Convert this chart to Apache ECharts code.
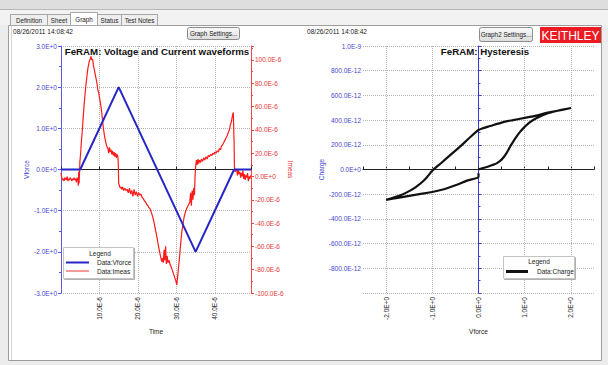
<!DOCTYPE html>
<html><head><meta charset="utf-8">
<script src="https://cdn.jsdelivr.net/npm/echarts@6/dist/echarts.min.js"></script>
<style>html,body{margin:0;padding:0;background:#ececec}#c{width:608px;height:365px}</style>
</head><body><div id="c"></div>
<script>
// ---- Data ----
const vforceTime = [0, 5, 15, 35, 45, 49.4];            // µs
const vforceValue = [0, 0, 2, -2, 0, 0];                 // V

const imeasTime = [
  0,0.2,0.4,0.6,0.8,1.0,1.2,1.4,1.6,1.8,2.0,2.2,2.4,2.6,2.8,3.0,3.2,3.4,3.6,3.8,4.0,4.2,4.4,
  4.5,4.6,4.7,4.8,
  4.9,5.1,5.3,5.5,5.8,6.1,6.4,6.7,7.0,7.3,7.6,7.8,8.0,8.2,8.4,8.7,9.0,9.3,9.6,9.8,10.1,10.4,10.6,10.8,11.0,11.3,11.6,11.9,
  12.2,12.4,12.6,12.8,13.0,13.2,13.4,13.6,13.8,14.0,14.2,14.4,14.6,14.8,14.9,15.0,
  15.2,15.4,15.6,15.8,16.0,16.3,16.6,16.9,17.2,17.5,17.8,18.1,18.4,18.7,19.0,19.3,19.6,19.9,20.2,20.5,20.8,21.1,21.4,21.7,
  22.0,22.3,22.6,22.9,23.2,23.5,23.8,24.1,24.4,24.7,25.0,25.3,25.6,25.9,26.2,26.4,26.6,26.8,27.0,27.2,27.4,27.6,27.8,
  28.1,28.4,28.7,29.0,29.3,29.6,29.9,30.1,30.3,30.5,30.8,31.1,31.4,31.7,32.0,32.3,32.6,32.9,33.2,33.5,33.7,33.9,34.1,34.3,34.5,34.7,34.85,
  35.0,35.2,35.4,35.6,35.8,36.0,36.3,36.5,36.8,37.1,37.4,37.7,38.0,38.3,38.6,38.9,39.2,39.5,39.8,40.0,40.3,40.6,40.9,41.2,41.5,41.7,
  42.0,42.3,42.6,42.9,43.2,43.5,43.8,44.0,44.3,44.5,44.7,44.8,45.0,45.1,45.3,45.5,
  45.7,45.9,46.1,46.3,46.5,46.7,46.9,47.1,47.3,47.5,47.7,47.9,48.1,48.3,48.5,48.7,48.9,49.1,49.3
];
const imeasValue = [                                      // µA
  3,-1,-3,-2,-4,-1,-2,-3,0,-4,-2,-3,-1,-2,-4,-2,-3,-1,-3,-2,-5,-1,-3,
  -8,4,-6,2,
  12,20,30,38,52,65,76,85,93,98,101,103,100,101,96,91,86,81,74,72,66,60,55,48,42,35,30,26,
  24,20,25,21,23,19,22,18,21,17,20,16,19,17,10,-6,
  -8,-10,-9,-11,-9,-12,-10,-12,-11,-14,-10,-15,-12,-17,-11,-16,-13,-17,-14,-16,-15,-18,-19,-21,
  -22,-24,-25,-27,-28,-31,-34,-38,-43,-48,-53,-59,-64,-69,-73,-70,-74,-63,-72,-60,-75,-68,-74,
  -72,-76,-78,-81,-84,-87,-90,-93,-87,-80,-70,-58,-48,-41,-35,-31,-28,-26,-24,-22,-14,-25,-12,-20,-10,-16,0,
  8,14,10,15,11,14,12,15,13,16,14,17,15,18,17,19,18,20,19,21,20,22,21,24,23,26,
  27,29,31,33,35,38,40,44,47,51,54,55,30,8,4,6,
  5,1,6,2,4,-1,3,0,5,-2,2,-3,1,-1,3,-4,0,-2,1
];

// Hysteresis loop in acquisition order (V, pC)
const hystV = [
  0,0.1,0.2,0.3,0.4,0.5,0.6,0.7,0.8,0.9,1.0,1.1,1.25,1.5,1.75,2.0,
  1.75,1.5,1.25,1.0,0.75,0.5,0.25,0.1,0,-0.2,-0.4,-0.6,-0.8,-1.0,-1.1,-1.2,-1.35,-1.5,-1.7,-2.0,
  -1.75,-1.5,-1.25,-1.0,-0.75,-0.5,-0.25,0,0];
const hystQ = [
  0,12,22,36,52,80,128,195,255,305,345,380,415,455,480,498,
  478,460,436,418,400,380,352,335,320,255,185,120,55,-10,-55,-95,-140,-175,-210,-246,
  -230,-214,-198,-182,-160,-128,-90,-58,-30];

const hystGridV = [-2, -1, 1, 2];

// ---- Helpers ----
const FONT = 'Liberation Sans, Arial, sans-serif';
const BLUE = '#2626c8', RED = '#ff1a1a';
const zip = (a, b) => a.map((v, i) => [v, b[i]]);
const dotted = {show: true, lineStyle: {color: '#b4b4b4', type: 'dotted', width: 1}};
const lab = (color, fmt, extra) => Object.assign({fontSize: 6.5, color, fontFamily: FONT, formatter: fmt}, extra || {});

const fmtE = (suffix) => v => (v === 0 ? '0.0E+0' : v.toFixed(1) + suffix);
const fmtCharge = v => v === 0 ? '0.0E+0' : (Math.abs(v) >= 1000 ? (v / 1000).toFixed(1) + 'E-9' : v.toFixed(1) + 'E-12');
const fmtHystX = v => Math.abs(v - Math.round(v)) < 1e-9 ? Math.round(v).toFixed(1) + 'E+0' : '';

function txt(x, y, text, o) {
  o = o || {};
  return {type: 'text', x, y, z: o.z || 5, silent: true, style: {text, fill: o.fill || '#1a1a1a', fontSize: o.size || 6.5,
    fontWeight: o.weight || 'normal', fontFamily: FONT, align: o.align || 'left', verticalAlign: 'middle'}};
}
function rect(x, y, w, h, o) {
  return {type: 'rect', z: o.z === undefined ? -1 : o.z, silent: true, shape: {x, y, width: w, height: h, r: o.r || 0},
    style: Object.assign({fill: o.fill || 'none', stroke: o.stroke || null, lineWidth: 1}, o.style || {})};
}
const tabs = [['Definition', 10, 37], ['Sheet', 47, 23], ['Graph', 70, 27], ['Status', 97, 24], ['Test Notes', 121, 36]];
const tabGraphics = [];
tabs.forEach(([t, x, w]) => {
  const sel = t === 'Graph';
  tabGraphics.push(rect(x + 0.5, sel ? 12.5 : 14.5, w, sel ? 13 : 11, {fill: sel ? '#ffffff' : '#efefef', stroke: '#a6a6a6', z: -1}));
  tabGraphics.push(txt(x + w / 2 + 0.5, sel ? 19 : 20, t, {align: 'center', size: 6.3, z: 0}));
});
const btnGrad = {type: 'linear', x: 0, y: 0, x2: 0, y2: 1, colorStops: [{offset: 0, color: '#fafafa'}, {offset: 1, color: '#dcdcdc'}]};

const chart = echarts.init(document.getElementById('c'), null, {renderer: 'svg'});
chart.setOption({
  animation: false,
  backgroundColor: '#ececec',
  textStyle: {fontFamily: FONT},
  grid: [
    {left: 61, top: 46, width: 190, height: 247},
    {left: 363, top: 46, width: 231, height: 247}
  ],
  xAxis: [
    {gridIndex: 0, type: 'value', min: 0, max: 49.4, interval: 10, position: 'bottom',
     axisLine: {show: false, onZero: false}, axisTick: {show: false},
     axisLabel: lab('#222', v => v.toFixed(1) + 'E-6', {rotate: 90, margin: 4, showMinLabel: false, showMaxLabel: false}),
     splitLine: dotted, name: 'Time', nameLocation: 'middle', nameGap: 32,
     nameTextStyle: {fontSize: 6.5, color: '#222', fontFamily: FONT}},
    {gridIndex: 0, type: 'value', min: 0, max: 49.4, interval: 10,
     axisLine: {show: true, onZero: true, lineStyle: {color: '#222', width: 1}},
     axisTick: {show: true, length: 3, lineStyle: {color: '#222'}}, axisLabel: {show: false}, splitLine: {show: false}},
    {gridIndex: 1, type: 'value', min: -2.5, max: 2.5, interval: 0.5, position: 'bottom',
     axisLine: {show: false, onZero: false}, axisTick: {show: false},
     axisLabel: lab('#222', fmtHystX, {rotate: 90, margin: 4}),
     splitLine: {show: false}, name: 'Vforce', nameLocation: 'middle', nameGap: 32,
     nameTextStyle: {fontSize: 6.5, color: '#222', fontFamily: FONT}},
    {gridIndex: 1, type: 'value', min: -2.5, max: 2.5, interval: 0.5,
     axisLine: {show: true, onZero: true, lineStyle: {color: '#222', width: 1}},
     axisTick: {show: true, length: 3, lineStyle: {color: '#222'}}, axisLabel: {show: false}, splitLine: {show: false}}
  ],
  yAxis: [
    {gridIndex: 0, type: 'value', min: -3, max: 3, interval: 1, position: 'left',
     axisLine: {show: true, onZero: false, lineStyle: {color: '#5a5ae0', width: 1}},
     axisTick: {show: true, length: 3, lineStyle: {color: '#5a5ae0'}},
     minorTick: {show: true, splitNumber: 2, length: 2, lineStyle: {color: '#5a5ae0'}},
     axisLabel: lab('#4646d0', v => v.toFixed(1) + 'E+0', {margin: 4}),
     splitLine: dotted, name: 'Vforce', nameLocation: 'middle', nameGap: 29,
     nameTextStyle: {fontSize: 6.5, color: '#4646d0', fontFamily: FONT}},
    {gridIndex: 0, type: 'value', min: -100, max: 112, interval: 20, position: 'right',
     axisLine: {show: true, onZero: false, lineStyle: {color: '#f04848', width: 1}},
     axisTick: {show: true, length: 3, lineStyle: {color: '#f04848'}},
     minorTick: {show: true, splitNumber: 2, length: 2, lineStyle: {color: '#f04848'}},
     axisLabel: lab('#e83434', fmtE('E-6'), {margin: 4, showMaxLabel: false}),
     splitLine: {show: false}, name: 'Imeas', nameLocation: 'middle', nameGap: 35, nameRotate: -90,
     nameTextStyle: {fontSize: 6.5, color: '#e83434', fontFamily: FONT}},
    {gridIndex: 1, type: 'value', min: -1000, max: 1000, interval: 200, position: 'left',
     axisLine: {show: false, onZero: false}, axisTick: {show: false},
     axisLabel: lab('#4646d0', fmtCharge, {margin: 2, showMinLabel: false}),
     splitLine: dotted, name: 'Charge', nameLocation: 'middle', nameGap: 37,
     nameTextStyle: {fontSize: 6.5, color: '#4646d0', fontFamily: FONT}},
    {gridIndex: 1, type: 'value', min: -1000, max: 1000, interval: 200,
     axisLine: {show: true, onZero: true, lineStyle: {color: '#3a3ae0', width: 1}},
     axisTick: {show: true, length: 3, lineStyle: {color: '#3a3ae0'}},
     minorTick: {show: true, splitNumber: 2, length: 2, lineStyle: {color: '#3a3ae0'}},
     axisLabel: {show: false}, splitLine: {show: false}}
  ],
  legend: [
    {data: [{name: 'Data:Vforce'}, {name: 'Data:Imeas', itemStyle: {color: '#f59a9a'}}],
     orient: 'vertical', left: 66, top: 259, itemWidth: 23, itemHeight: 2, icon: 'rect', itemGap: 1.5,
     padding: 0, selectedMode: false, textStyle: {fontSize: 6.5, color: '#222', fontFamily: FONT, padding: [0, 0, 0, 3]}},
    {data: ['Data:Charge'], orient: 'vertical', left: 506, top: 268, itemWidth: 22, itemHeight: 3, icon: 'rect',
     padding: 0, selectedMode: false, textStyle: {fontSize: 6.5, color: '#222', fontFamily: FONT, padding: [0, 0, 0, 4]}}
  ],
  series: [
    {name: 'Data:Imeas', type: 'line', xAxisIndex: 0, yAxisIndex: 1, data: zip(imeasTime, imeasValue),
     showSymbol: false, symbol: 'none', z: 2, itemStyle: {color: RED}, lineStyle: {color: RED, width: 1.2}},
    {name: 'Data:Vforce', type: 'line', xAxisIndex: 0, yAxisIndex: 0, data: zip(vforceTime, vforceValue),
     showSymbol: false, symbol: 'none', z: 3, itemStyle: {color: BLUE}, lineStyle: {color: BLUE, width: 2}},
    {name: 'Data:Charge', type: 'line', xAxisIndex: 2, yAxisIndex: 2, data: zip(hystV, hystQ),
     showSymbol: false, symbol: 'none', z: 3, smooth: 0.3, itemStyle: {color: '#111'}, lineStyle: {color: '#111', width: 2.2},
     markLine: {silent: true, symbol: 'none', label: {show: false}, z: 1,
       lineStyle: {color: '#b4b4b4', type: 'dotted', width: 1},
       data: hystGridV.map(v => ({xAxis: v}))}}
  ],
  graphic: [
    rect(0, 0, 608, 9, {fill: '#dedede', z: -2}),
    {type: 'line', z: -2, silent: true, shape: {x1: 0, y1: 9.5, x2: 608, y2: 9.5}, style: {stroke: '#b8b8b8'}},
    rect(0, 10, 608, 15, {fill: '#f2f2f2', z: -2}),
    rect(8.5, 25.5, 593, 335, {fill: '#ffffff', stroke: '#9c9c9c', z: -2}),
    {type: 'line', z: -1, silent: true, shape: {x1: 11.5, y1: 26, x2: 11.5, y2: 360}, style: {stroke: '#d6d6d6'}},
    ...tabGraphics,
    txt(13, 31.5, '08/26/2011 14:08:42', {size: 6.6}),
    txt(307, 31.5, '08/26/2011 14:08:42', {size: 6.6}),
    rect(187.5, 27.5, 52, 12, {fill: btnGrad, stroke: '#8c8c8c', r: 2, z: 0}),
    txt(213.5, 33.5, 'Graph Settings...', {align: 'center', size: 6.3}),
    rect(479.5, 27.5, 53, 14, {fill: btnGrad, stroke: '#8c8c8c', r: 2, z: 0}),
    txt(506, 34.5, 'Graph2 Settings...', {align: 'center', size: 6.3}),
    rect(540, 27, 61, 16, {fill: '#ec1b23', z: 0}),
    txt(570.5, 35.5, 'KEITHLEY', {align: 'center', size: 12, fill: '#ffffff'}),
    txt(157, 51, 'FeRAM: Voltage and Current waveforms', {align: 'center', size: 9.7, weight: 'bold', fill: '#111'}),
    txt(485, 51, 'FeRAM: Hysteresis', {align: 'center', size: 9.7, weight: 'bold', fill: '#111'}),
    rect(63.5, 247.5, 70, 31, {fill: '#ffffff', stroke: '#c4c4c4', z: 3,
      style: {shadowColor: '#b0b0b0', shadowOffsetX: 1, shadowOffsetY: 1, shadowBlur: 0}}),
    txt(100, 253.5, 'Legend', {align: 'center', z: 6}),
    rect(503.5, 256.5, 71, 22, {fill: '#ffffff', stroke: '#c4c4c4', z: 3,
      style: {shadowColor: '#b0b0b0', shadowOffsetX: 1, shadowOffsetY: 1, shadowBlur: 0}}),
    txt(539, 261.5, 'Legend', {align: 'center', z: 6})
  ]
});
</script>
</body></html>
